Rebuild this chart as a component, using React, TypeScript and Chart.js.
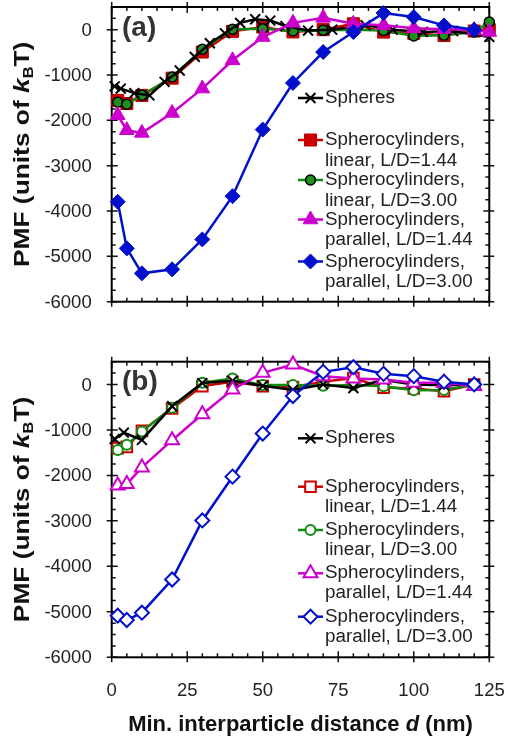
import React, { useEffect, useRef } from "react";
import { Chart, registerables } from "chart.js";
Chart.register(...registerables);

// ---------- data ----------
const X_TICKS = [0, 25, 50, 75, 100, 125];
const Y_TICKS = [0, -1000, -2000, -3000, -4000, -5000, -6000];

const DIST_A = [2, 5, 10, 20, 30, 40, 50, 60, 70, 80, 90, 100, 110, 120, 125];
const DIST_A_BLUE = [2, 5, 10, 20, 30, 40, 50, 60, 70, 80, 90, 100, 110, 120];
const SPHERES_X_A = [1, 3, 7.5, 12.5, 17.5, 22.5, 27.5, 32.5, 37.5, 42.5, 47.5, 52.5, 57.5, 65, 73, 84, 93, 103, 113, 125];
const SPHERES_A = [-1250, -1300, -1400, -1450, -1150, -900, -600, -300, -80, 150, 230, 200, 80, -20, 0, 100, 0, -50, -30, -160];
const LIN144_A = [-1560, -1630, -1450, -1070, -493, -37, 57, -50, 0, 130, -53, -80, -130, -30, 0];
const LIN300_A = [-1600, -1645, -1447, -1044, -434, 7, 22, -30, -15, 0, -20, -140, -125, -50, 167];
const PAR144_A = [-1888, -2218, -2277, -1837, -1300, -676, -163, 150, 260, 130, 95, 30, 10, -10, -50];
const PAR300_A = [-3797, -4824, -5374, -5286, -4626, -3672, -2203, -1176, -493, -53, 366, 278, 95, 0];

const DIST_B = [2, 5, 10, 20, 30, 40, 50, 60, 70, 80, 90, 100, 110, 120];
const SPHERES_X_B = [1, 4, 10, 20, 30, 40, 50, 60, 70, 80, 90, 100, 110, 120];
const SPHERES_B = [-1200, -1060, -1220, -480, 30, 80, -30, -120, 0, -80, 100, 0, -20, 0];
const LIN144_B = [-1400, -1372, -1020, -530, -36, 58, -36, -58, 60, 140, -70, -90, -150, 0];
const LIN300_B = [-1440, -1328, -1037, -511, 36, 131, -15, -15, -30, -10, -40, -130, -120, 0];
const PAR144_B = [-2225, -2189, -1824, -1226, -657, -110, 255, 437, 182, 131, 109, 36, 36, -36];
const PAR300_B = [-5085, -5180, -5019, -4289, -2991, -2028, -1080, -256, 276, 379, 233, 182, 58, 0];

const LABELS = [
  ["Spheres"],
  ["Spherocylinders,", "linear, L/D=1.44"],
  ["Spherocylinders,", "linear, L/D=3.00"],
  ["Spherocylinders,", "parallel, L/D=1.44"],
  ["Spherocylinders,", "parallel, L/D=3.00"],
];

// ---------- styles ----------
const FONT = "'Liberation Sans', Arial, Helvetica, sans-serif";
const RED = "#cc0000";
const GREEN = "#118a11";
const MAGENTA = "#cc00cc";
const BLUE = "#0010cc";
const BLACK = "#000000";

type Series = {
  xs: number[];
  ys: number[];
  color: string;
  style: string;
  radius: number;
  fill: string;
  stroke: string;
  pbw: number;
  order: number;
};

type Panel = {
  tag: string;
  series: Series[];
  legendY: number[];
  lineGap: number;
  top: number;
  bottom: number;
  height: number;
  showX: boolean;
};

function drawMarker(ctx: CanvasRenderingContext2D, s: Series, x: number, y: number) {
  const r = s.radius;
  ctx.save();
  ctx.beginPath();
  ctx.lineWidth = s.pbw;
  ctx.strokeStyle = s.stroke;
  ctx.fillStyle = s.fill;
  if (s.style === "rect") {
    const h = r * Math.SQRT1_2;
    ctx.rect(x - h, y - h, 2 * h, 2 * h);
  } else if (s.style === "circle") {
    ctx.arc(x, y, r, 0, Math.PI * 2);
  } else if (s.style === "triangle") {
    let a = 0;
    ctx.moveTo(x + Math.sin(a) * r, y - Math.cos(a) * r);
    a += (2 * Math.PI) / 3;
    ctx.lineTo(x + Math.sin(a) * r, y - Math.cos(a) * r);
    a += (2 * Math.PI) / 3;
    ctx.lineTo(x + Math.sin(a) * r, y - Math.cos(a) * r);
    ctx.closePath();
  } else if (s.style === "rectRot") {
    ctx.moveTo(x, y - r);
    ctx.lineTo(x + r, y);
    ctx.lineTo(x, y + r);
    ctx.lineTo(x - r, y);
    ctx.closePath();
  } else if (s.style === "crossRot") {
    const o = r * Math.SQRT1_2;
    ctx.moveTo(x - o, y - o);
    ctx.lineTo(x + o, y + o);
    ctx.moveTo(x - o, y + o);
    ctx.lineTo(x + o, y - o);
    ctx.stroke();
    ctx.restore();
    return;
  }
  ctx.fill();
  ctx.stroke();
  ctx.restore();
}

function drawSegs(ctx: CanvasRenderingContext2D, segs: { t: string; f: string; dy: number }[], cx: number, cy: number) {
  let total = 0;
  segs.forEach((sg) => {
    ctx.font = sg.f;
    total += ctx.measureText(sg.t).width;
  });
  let x = cx - total / 2;
  segs.forEach((sg) => {
    ctx.font = sg.f;
    ctx.fillText(sg.t, x, cy + sg.dy);
    x += ctx.measureText(sg.t).width;
  });
}

function decorPlugin(panel: Panel) {
  return {
    id: "decor_" + panel.tag.replace(/\W/g, ""),
    beforeDatasetsDraw(chart: any) {
      const { ctx, chartArea } = chart;
      const { left, right, top, bottom } = chartArea;
      const xs = chart.scales.x;
      const ys = chart.scales.y;
      ctx.save();
      ctx.strokeStyle = "#111";
      ctx.lineWidth = 1.5;
      ctx.beginPath();
      for (let v = 0; v <= 125; v += 5) {
        const px = xs.getPixelForValue(v);
        const major = X_TICKS.includes(v);
        const inL = major ? 6 : 4;
        const outL = major ? 5 : 0;
        ctx.moveTo(px, bottom + outL);
        ctx.lineTo(px, bottom - inL);
        ctx.moveTo(px, top - outL);
        ctx.lineTo(px, top + inL);
      }
      for (let v = -6000; v <= 500; v += 250) {
        const py = ys.getPixelForValue(v);
        const major = Y_TICKS.includes(v);
        const inL = major ? 6 : 4;
        const outL = major ? 5 : 0;
        ctx.moveTo(left - outL, py);
        ctx.lineTo(left + inL, py);
        ctx.moveTo(right + outL, py);
        ctx.lineTo(right - inL, py);
      }
      ctx.stroke();
      ctx.lineWidth = 2;
      ctx.strokeStyle = "#000";
      ctx.strokeRect(left, top, right - left, bottom - top);

      // tick labels
      ctx.fillStyle = "#222";
      ctx.font = `18.5px ${FONT}`;
      ctx.textAlign = "right";
      ctx.textBaseline = "middle";
      Y_TICKS.forEach((v) => {
        ctx.fillText(String(v), left - 20, ys.getPixelForValue(v) + 1);
      });
      if (panel.showX) {
        ctx.textAlign = "center";
        X_TICKS.forEach((v) => {
          ctx.fillText(String(v), xs.getPixelForValue(v), bottom + 34);
        });
      }
      ctx.restore();
    },
    afterDatasetsDraw(chart: any) {
      const { ctx, chartArea } = chart;
      const { left, right, top, bottom } = chartArea;
      ctx.save();
      // panel tag
      ctx.fillStyle = "#333";
      ctx.font = `bold 28px ${FONT}`;
      ctx.textBaseline = "middle";
      ctx.textAlign = "left";
      ctx.fillText(panel.tag, 122, top + 21);

      // legend
      ctx.font = `18.8px ${FONT}`;
      ctx.fillStyle = "#222";
      panel.series.forEach((s, i) => {
        const y = panel.legendY[i];
        ctx.save();
        ctx.strokeStyle = s.color;
        ctx.lineWidth = 2.5;
        ctx.beginPath();
        ctx.moveTo(298, y);
        ctx.lineTo(323, y);
        ctx.stroke();
        ctx.restore();
        drawMarker(ctx, s, 310.5, y);
        LABELS[i].forEach((t, j) => {
          ctx.fillText(t, 325, y + j * panel.lineGap);
        });
      });

      // y title
      ctx.save();
      ctx.translate(23, (top + bottom) / 2);
      ctx.rotate(-Math.PI / 2);
      ctx.scale(1.17, 1);
      ctx.fillStyle = "#111";
      ctx.textBaseline = "middle";
      drawSegs(
        ctx,
        [
          { t: "PMF (units of ", f: `bold 22.5px ${FONT}`, dy: 0 },
          { t: "k", f: `italic bold 22.5px ${FONT}`, dy: 0 },
          { t: "B", f: `bold 14px ${FONT}`, dy: 6 },
          { t: "T)", f: `bold 22.5px ${FONT}`, dy: 0 },
        ],
        0,
        0
      );
      ctx.restore();

      // x title
      if (panel.showX) {
        ctx.fillStyle = "#111";
        ctx.textBaseline = "middle";
        drawSegs(
          ctx,
          [
            { t: "Min. interparticle distance ", f: `bold 22px ${FONT}`, dy: 0 },
            { t: "d", f: `italic bold 22px ${FONT}`, dy: 0 },
            { t: " (nm)", f: `bold 22px ${FONT}`, dy: 0 },
          ],
          (left + right) / 2,
          bottom + 68
        );
      }
      ctx.restore();
    },
  };
}

function makeConfig(panel: Panel): any {
  return {
    type: "line",
    data: {
      datasets: panel.series.map((s, i) => ({
        label: LABELS[i].join(" "),
        data: s.xs.map((x, k) => ({ x, y: s.ys[k] })),
        borderColor: s.color,
        borderWidth: 2.5,
        pointStyle: s.style,
        pointRadius: s.radius,
        pointBackgroundColor: s.fill,
        pointBorderColor: s.stroke,
        pointBorderWidth: s.pbw,
        fill: false,
        tension: 0,
        clip: false,
        order: s.order,
      })),
    },
    options: {
      animation: false,
      responsive: false,
      events: [],
      layout: {
        autoPadding: false,
        padding: {
          top: panel.top,
          right: 508 - 489.3,
          bottom: panel.height - panel.bottom,
          left: 0,
        },
      },
      plugins: { legend: { display: false }, tooltip: { enabled: false } },
      scales: {
        x: {
          type: "linear",
          min: 0,
          max: 125,
          grid: { display: false, drawTicks: false },
          border: { display: false },
          ticks: { display: false },
          afterBuildTicks: (sc: any) => {
            sc.ticks = X_TICKS.map((v) => ({ value: v }));
          },
          afterFit: (sc: any) => {
            sc.height = 0;
          },
        },
        y: {
          type: "linear",
          min: -6000,
          max: 500,
          grid: { display: false, drawTicks: false },
          border: { display: false },
          ticks: { display: false },
          afterBuildTicks: (sc: any) => {
            sc.ticks = Y_TICKS.map((v) => ({ value: v }));
          },
          afterFit: (sc: any) => {
            sc.width = 111.7;
          },
        },
      },
    },
    plugins: [decorPlugin(panel)],
  };
}

const panelA: Panel = {
  tag: "(a)",
  series: [
    { xs: SPHERES_X_A, ys: SPHERES_A, color: BLACK, style: "crossRot", radius: 7, fill: BLACK, stroke: BLACK, pbw: 2, order: 2 },
    { xs: DIST_A, ys: LIN144_A, color: RED, style: "rect", radius: 8.5, fill: RED, stroke: "#b80000", pbw: 1, order: 4 },
    { xs: DIST_A, ys: LIN300_A, color: GREEN, style: "circle", radius: 5, fill: "#1f8f1f", stroke: "#000", pbw: 1.5, order: 3 },
    { xs: DIST_A, ys: PAR144_A, color: MAGENTA, style: "triangle", radius: 8.5, fill: MAGENTA, stroke: MAGENTA, pbw: 1, order: 1 },
    { xs: DIST_A_BLUE, ys: PAR300_A, color: BLUE, style: "rectRot", radius: 7.5, fill: BLUE, stroke: BLUE, pbw: 1, order: 0 },
  ],
  legendY: [98, 140, 180, 219.5, 261.5],
  lineGap: 20.5,
  top: 7,
  bottom: 301.7,
  height: 340,
  showX: false,
};

const panelB: Panel = {
  tag: "(b)",
  series: [
    { xs: SPHERES_X_B, ys: SPHERES_B, color: BLACK, style: "crossRot", radius: 7, fill: BLACK, stroke: BLACK, pbw: 2, order: 2 },
    { xs: DIST_B, ys: LIN144_B, color: RED, style: "rect", radius: 7.5, fill: "#ffffff", stroke: RED, pbw: 2, order: 4 },
    { xs: DIST_B, ys: LIN300_B, color: GREEN, style: "circle", radius: 5, fill: "#ffffff", stroke: GREEN, pbw: 2, order: 3 },
    { xs: DIST_B, ys: PAR144_B, color: MAGENTA, style: "triangle", radius: 8, fill: "#ffffff", stroke: MAGENTA, pbw: 2, order: 1 },
    { xs: DIST_B, ys: PAR300_B, color: BLUE, style: "rectRot", radius: 7, fill: "#ffffff", stroke: BLUE, pbw: 2, order: 0 },
  ],
  legendY: [98.3, 146.7, 190, 233.3, 276.7],
  lineGap: 19.8,
  top: 21.7,
  bottom: 317.3,
  height: 402,
  showX: true,
};

function PanelChart({ panel, offset }: { panel: Panel; offset: number }) {
  const ref = useRef<HTMLCanvasElement | null>(null);
  useEffect(() => {
    if (!ref.current) return;
    const chart = new Chart(ref.current, makeConfig(panel));
    return () => chart.destroy();
  }, [panel]);
  return (
    <canvas
      ref={ref}
      width={508}
      height={panel.height}
      style={{ position: "absolute", left: 0, top: offset, width: 508, height: panel.height }}
    />
  );
}

export default function App() {
  return (
    <div style={{ position: "absolute", left: 0, top: 0, width: 508, height: 742, background: "#fff" }}>
      <PanelChart panel={panelA} offset={0} />
      <PanelChart panel={panelB} offset={340} />
    </div>
  );
}
